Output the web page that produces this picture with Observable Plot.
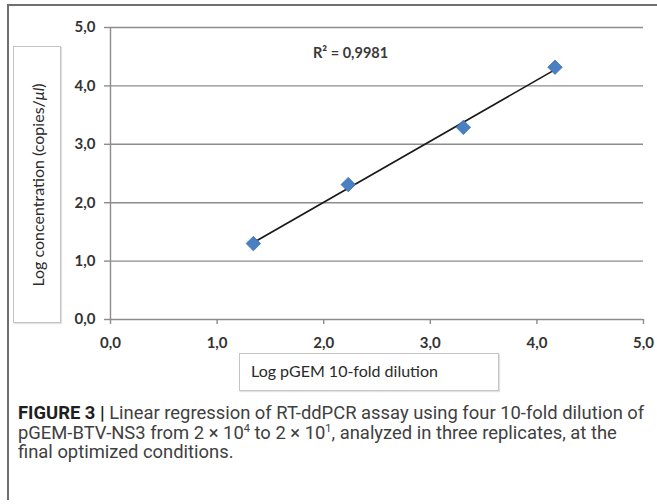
<!DOCTYPE html>
<html>
<head>
<meta charset="utf-8">
<script src="https://cdn.jsdelivr.net/npm/d3@7"></script>
<script src="https://cdn.jsdelivr.net/npm/@observablehq/plot@0.6"></script>
<style>
  html, body { margin: 0; padding: 0; background: #fff; }
  #wrap { position: relative; width: 657px; height: 504px; overflow: hidden; }
  #frame { position: absolute; left: 7px; top: 4px; width: 720px; height: 494px;
           border-top: 2px solid #6f6f6f; border-left: 2px solid #6f6f6f; }
  #chart { position: absolute; left: 0; top: 0; }
  .tbox { position: absolute; border: 1.5px solid #c4c4c4; box-shadow: 1px 1px 1px #e2e2e2;
          font-family: Lato, "Open Sans", sans-serif; font-size: 16px; color: #2a2a2a; background: #fff; }
  #ybox { left: 13px; top: 46px; width: 46px; height: 275px; }
  #ybox span { position: absolute; left: 50%; top: 50%; white-space: nowrap;
               transform: translate(-50%, -50%) rotate(-90deg); }
  #xbox { left: 239px; top: 353px; width: 258px; height: 36px; }
  #xbox span { position: absolute; left: 11px; top: 7px; white-space: nowrap; }
  #caption { position: absolute; left: 18px; top: 403px; width: 640px; white-space: nowrap;
             font-family: Roboto, "Liberation Sans", sans-serif; font-size: 18.4px;
             line-height: 19.5px; color: #404040; }
  #caption b { color: #1e1e1e; }
  #caption sup { font-size: 11px; vertical-align: 0; position: relative; top: -7px; line-height: 0; }
</style>
</head>
<body>
<div id="wrap">
  <div id="frame"></div>
  <div id="chart"></div>
  <div id="ybox" class="tbox"><span>Log concentration (copies/<i>μl</i>)</span></div>
  <div id="xbox" class="tbox"><span>Log pGEM 10-fold dilution</span></div>
  <div id="caption"><b>FIGURE 3 |</b> Linear regression of RT-ddPCR assay using four 10-fold dilution of<br>pGEM-BTV-NS3 from 2 × 10<sup>4</sup> to 2 × 10<sup>1</sup>, analyzed in three replicates, at the<br>final optimized conditions.</div>
</div>
<script>
// Data
const dilutionLog = [1.34, 2.23, 3.31, 4.17];
const concentrationLog = [1.30, 2.31, 3.29, 4.32];
const xTicks = [0, 1, 2, 3, 4, 5];
const yTicks = [0, 1, 2, 3, 4, 5];
const r2Label = "R² = 0,9981";
const r2Pos = {x: 1.9, y: 4.55};

const points = dilutionLog.map((x, i) => ({x, y: concentrationLog[i]}));
const fmt = d => d.toFixed(1).replace(".", ",");

const chart = Plot.plot({
  width: 657,
  height: 400,
  marginLeft: 110,
  marginRight: 14,
  marginTop: 27,
  marginBottom: 81,
  x: {domain: [0, 5]},
  y: {domain: [0, 5]},
  style: {fontFamily: "Lato, 'Open Sans', sans-serif", color: "#333", background: "transparent"},
  marks: [
    Plot.ruleY(yTicks.filter(d => d > 0), {stroke: "#8c8c8c", strokeWidth: 1.4}),
    Plot.ruleX([0], {stroke: "#8c8c8c", strokeWidth: 1.4}),
    Plot.ruleY([0], {stroke: "#8c8c8c", strokeWidth: 1.4}),
    Plot.axisY({ticks: yTicks, tickFormat: fmt, tickSize: 6, tickPadding: 9, label: null,
                stroke: "#8c8c8c", strokeWidth: 1.4, fontSize: 15, fontWeight: 700, fill: "#333"}),
    Plot.axisX({ticks: xTicks, tickFormat: fmt, tickSize: 5, tickPadding: 13, label: null,
                stroke: "#8c8c8c", strokeWidth: 1.4, fontSize: 15, fontWeight: 700, fill: "#333"}),
    Plot.linearRegressionY(points, {x: "x", y: "y", ci: 0, stroke: "#1a1a1a", strokeWidth: 1.6}),
    Plot.dot(points, {x: "x", y: "y", symbol: "diamond2", r: 6.5, fill: "#4a7fc1", stroke: "#3f72b3", strokeWidth: 0.8}),
    Plot.text([r2Label], {x: r2Pos.x, y: r2Pos.y, text: d => d, textAnchor: "start",
                fontSize: 14.5, fontWeight: 700, fill: "#3a3a3a"})
  ]
});
document.getElementById("chart").appendChild(chart);
</script>
</body>
</html>
